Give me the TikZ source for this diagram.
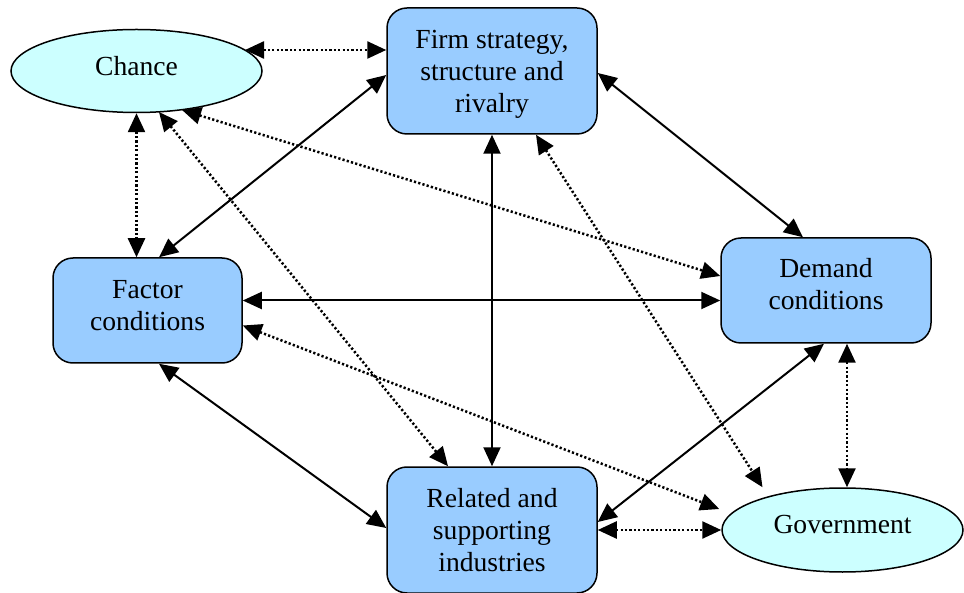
\documentclass[tikz,border=0pt]{standalone}
\usepackage{fontspec}
\setmainfont{Liberation Serif}
\newfontfamily\tnr{Liberation Serif}
\usetikzlibrary{shapes.geometric,arrows.meta,calc}
\definecolor{boxblue}{HTML}{99CCFF}
\definecolor{ellcyan}{HTML}{CCFFFF}
\begin{document}
\begin{tikzpicture}[x=1pt,y=-1pt,
  txt/.style={font=\tnr\fontsize{27.6}{32}\selectfont, align=center, inner sep=0pt},
  stagebox/.style={txt, draw=black, line width=1.5pt, fill=boxblue, rounded corners=20pt, minimum width=210pt},
  oval/.style={txt, ellipse, draw=black, line width=1.5pt, fill=ellcyan},
  link/.style={line width=2pt, {Triangle[length=19pt,width=17pt]}-{Triangle[length=19pt,width=17pt]}},
  dlink/.style={line width=2.5pt, dash pattern=on 2.2pt off 2.2pt, {Triangle[length=19pt,width=17pt]}-{Triangle[length=19pt,width=17pt]}}
]
\useasboundingbox (0,0) rectangle (964,593);
\fill[white] (0,0) rectangle (964,593);

\node[oval, minimum width=251pt, minimum height=83pt] (chance) at (136.5,71) {};
\node[txt] (chancet) at (136.5,66) {Chance};
\node[oval, minimum width=241pt, minimum height=84pt] (gov) at (842.5,530) {};
\node[txt] (govt) at (842.5,524) {Government};
\node[stagebox, minimum height=126pt] (firm) at (492,71) {};
\node[txt] (firmt) at (492,74) {Firm strategy,\\structure and\\rivalry};
\node[stagebox, minimum height=105pt] (demand) at (826,290.5) {};
\node[txt] (demandt) at (826,284.5) {Demand\\conditions};
\node[stagebox, minimum width=189pt, minimum height=105pt] (factor) at (147.5,310.5) {};
\node[txt] (factort) at (147.5,305.5) {Factor\\conditions};
\node[stagebox, minimum height=126pt] (related) at (492,530) {};
\node[txt] (relatedt) at (492,530) {Related and\\supporting\\industries};

% dotted links
\draw[dlink] ($(chance.center)+(108.5,-21)$) -- ($(firm.west)+(0,-21)$);
\draw[dlink] (chance.south) -- (chance.south |- factor.north);
\draw[dlink] ($(chance.center)+(22.5,41)$) -- ($(related.north)+(-44,0)$);
\draw[dlink] ($(chance.center)+(45.5,39)$) -- ($(demand.west)+(0,-14.5)$);
\draw[dlink] ($(firm.south)+(44,0)$) -- ($(gov.north)+(-80,0)$);
\draw[dlink] ($(factor.east)+(0,15)$) -- ($(gov.west)+(-2,-21)$);
\draw[dlink] ($(demand.south)+(21,0)$) -- ($(gov.north)+(4.5,0)$);
\draw[dlink] (related.east) -- (gov.west);

% solid links
\draw[link] ($(firm.west)+(0,4)$) -- ($(factor.north)+(11.5,0)$);
\draw[link] ($(firm.east)+(0,2)$) -- ($(demand.north)+(-23,0)$);
\draw[link] (firm.south) -- (related.north);
\draw[link] ($(factor.east)+(0,-10)$) -- ($(demand.west)+(0,10)$);
\draw[link] ($(factor.south)+(11.5,0)$) -- ($(related.west)+(0,-2)$);
\draw[link] ($(demand.south)+(-2,0)$) -- ($(related.east)+(0,-8)$);
\end{tikzpicture}
\end{document}
